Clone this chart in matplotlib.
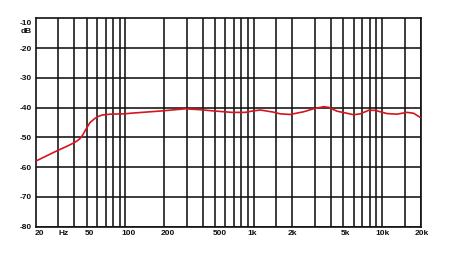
import matplotlib
matplotlib.use("Agg")
import matplotlib.pyplot as plt
import matplotlib.transforms as mtransforms

# ---- data ----
freq_hz = [20.4, 29, 35, 39, 42, 44.5, 46.5, 48.6, 53, 58, 62, 65.6, 76, 98, 109, 193,
           293, 383, 483, 676, 859, 990, 1124, 1418, 1610, 1926, 2446, 2925, 3500,
           3830, 4456, 5337, 6000, 6762, 7855, 8856, 9688, 10916, 13064, 15636,
           17620, 19860]
level_db = [-57.8, -54.6, -53.0, -52.0, -51.2, -50.3, -49.2, -47.7, -45.0, -43.6, -42.9,
            -42.5, -42.2, -42.1, -41.9, -41.1, -40.4, -40.7, -41.1, -41.6, -41.6,
            -41.1, -40.8, -41.5, -42.1, -42.3, -41.4, -40.4, -39.7, -39.9, -41.2,
            -41.9, -42.4, -42.1, -40.9, -40.9, -41.4, -42.0, -42.2, -41.6, -41.9,
            -43.3]

grid_freqs = [30, 40, 50, 60, 70, 80, 90, 100, 200, 300, 400, 500, 600, 700, 800,
              900, 1000, 1500, 2000, 3000, 4000, 5000, 6000, 7000, 8000, 9000,
              10000, 15000, 20000]
grid_db = [-20, -30, -40, -50, -60, -70, -80]

xlabel_pos = [20, 33, 50, 100, 200, 500, 1000, 2000, 5000, 10000, 20000]
xlabel_txt = ["20", "Hz", "50", "100", "200", "500", "1k", "2k", "5k", "10k", "20k"]
xlabel_off = [4, 0, 2.5, 3.5, 3.5, 5, -2, 0, 1.8, 0.5, 1]  # px

ylabel_pos = [-10, -20, -30, -40, -50, -60, -70, -80]
ylabel_txt = ["-10", "-20", "-30", "-40", "-50", "-60", "-70", "-80"]

W, H = 450, 255
fig = plt.figure(figsize=(W / 100, H / 100), dpi=100)
ax = fig.add_axes([35.7 / W, 1 - 227.7 / H, (420.7 - 35.7) / W, (227.7 - 19.3) / H])
ax.set_xscale("log")
ax.set_xlim(20, 20000)
ax.set_ylim(-80, -10)
ax.set_xticks([])
ax.set_yticks([])
ax.minorticks_off()
for s in ax.spines.values():
    s.set_linewidth(1.2)
    s.set_color("#111111")

gc = "#111111"
for f in grid_freqs:
    ax.axvline(f, color=gc, lw=1.15, zorder=1)
for d in grid_db:
    ax.axhline(d, color=gc, lw=1.15, zorder=1)

ax.plot(freq_hz, level_db, color="#d8141c", lw=1.2, zorder=3, solid_capstyle="round",
        solid_joinstyle="round")

font = dict(family=["Liberation Sans", "DejaVu Sans"], weight="bold", size=6, color="#111111")

for f, t, o in zip(xlabel_pos, xlabel_txt, xlabel_off):
    tr = mtransforms.blended_transform_factory(ax.transData, ax.transAxes) + \
        mtransforms.ScaledTranslation(o / 100, 0, fig.dpi_scale_trans)
    ax.text(f, -0.012, t, transform=tr, ha="center", va="top", **font)

for d, t in zip(ylabel_pos, ylabel_txt):
    oy = -4 if d == -10 else 0
    tr = mtransforms.blended_transform_factory(ax.transAxes, ax.transData) + \
        mtransforms.ScaledTranslation(-4 / 100, oy / 100, fig.dpi_scale_trans)
    ax.text(0, d, t, transform=tr, ha="right", va="center", **font)
tr = mtransforms.blended_transform_factory(ax.transAxes, ax.transData) + \
    mtransforms.ScaledTranslation(-4 / 100, -12.5 / 100, fig.dpi_scale_trans)
ax.text(0, -10, "dB", transform=tr, ha="right", va="center", **font)

fig.savefig("out.png", dpi=100)
